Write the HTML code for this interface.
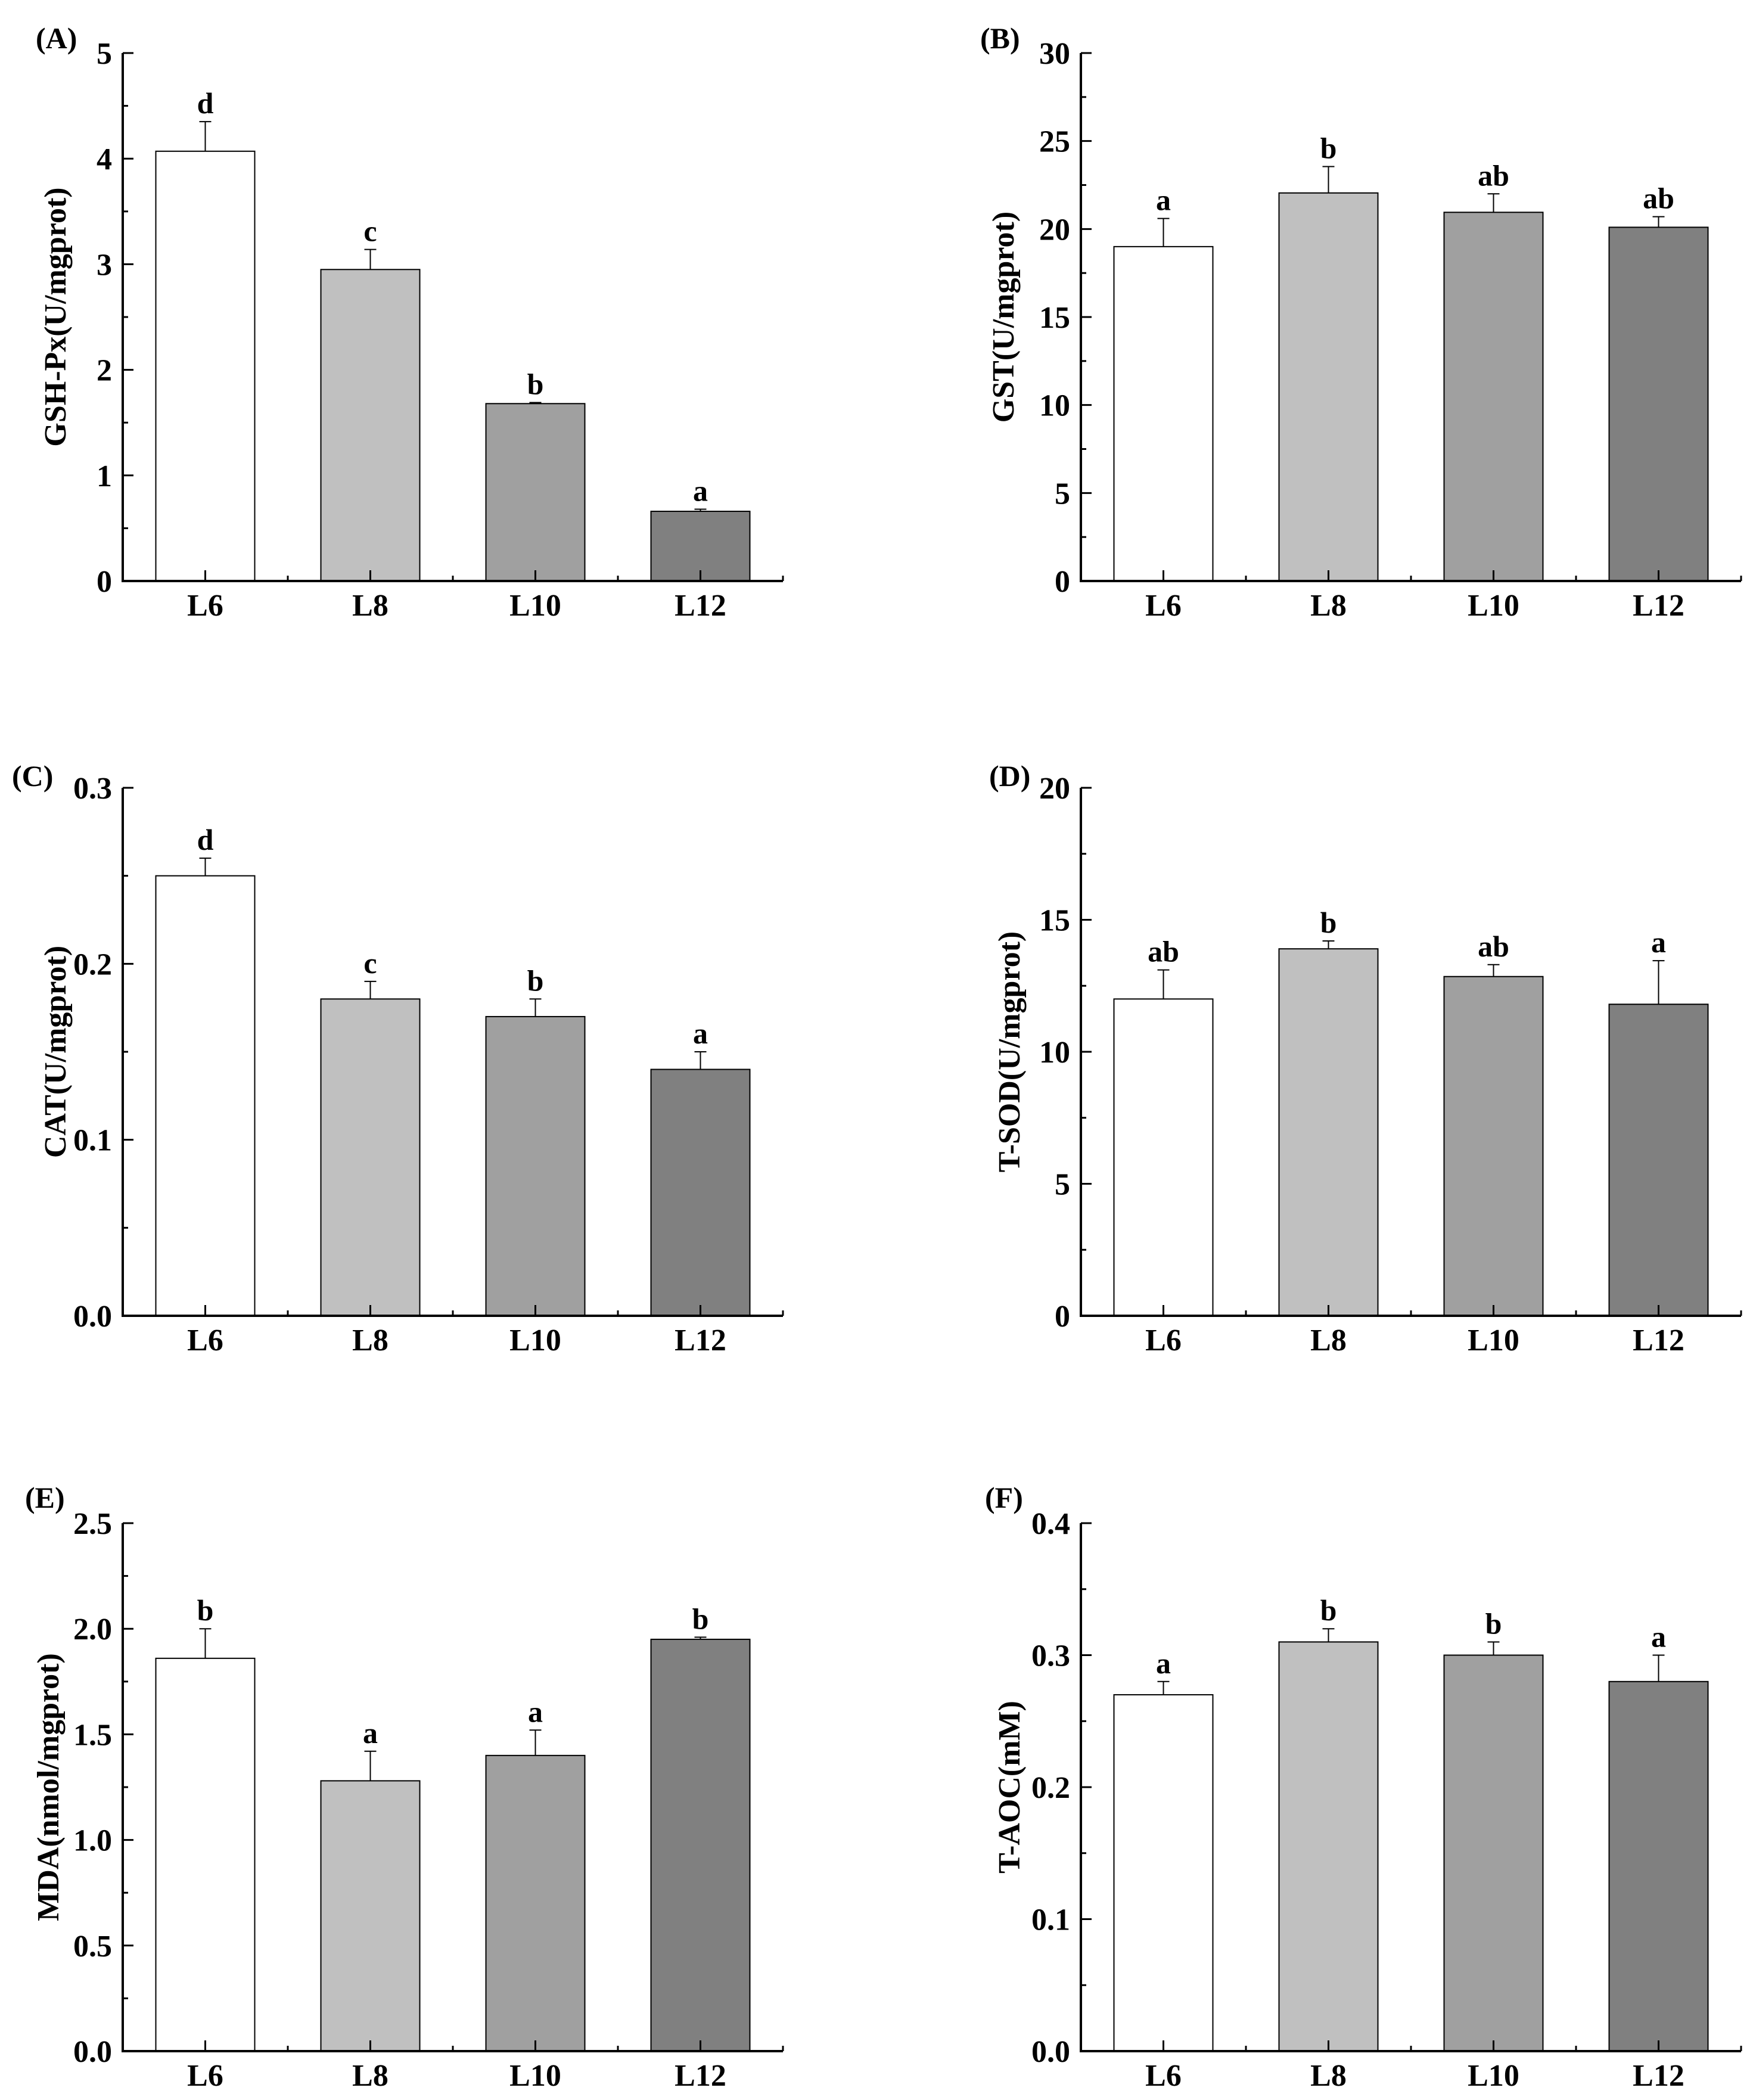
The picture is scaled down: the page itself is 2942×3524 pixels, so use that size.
<!DOCTYPE html>
<html><head><meta charset="utf-8">
<style>
html,body{margin:0;padding:0;background:#fff;}
svg{display:block;}
text{font-family:"Liberation Serif",serif;font-weight:bold;fill:#000;}
</style></head>
<body>
<svg id="fig" width="2942" height="3524" viewBox="0 0 2942 3524" xmlns="http://www.w3.org/2000/svg"></svg>
<script>
const categories = ["L6","L8","L10","L12"];
const barColors = ["#ffffff","#c0c0c0","#a0a0a0","#808080"];

const valuesA = [4.07, 2.95, 1.68, 0.66];
const errorsA = [0.28, 0.19, 0.01, 0.02];
const lettersA = ["d","c","b","a"];
const ticksA = ["0","1","2","3","4","5"];

const valuesB = [19.0, 22.05, 20.95, 20.1];
const errorsB = [1.6, 1.5, 1.05, 0.6];
const lettersB = ["a","b","ab","ab"];
const ticksB = ["0","5","10","15","20","25","30"];

const valuesC = [0.25, 0.18, 0.17, 0.14];
const errorsC = [0.01, 0.01, 0.01, 0.01];
const lettersC = ["d","c","b","a"];
const ticksC = ["0.0","0.1","0.2","0.3"];

const valuesD = [12.0, 13.9, 12.85, 11.8];
const errorsD = [1.1, 0.3, 0.45, 1.65];
const lettersD = ["ab","b","ab","a"];
const ticksD = ["0","5","10","15","20"];

const valuesE = [1.86, 1.28, 1.40, 1.95];
const errorsE = [0.14, 0.14, 0.12, 0.01];
const lettersE = ["b","a","a","b"];
const ticksE = ["0.0","0.5","1.0","1.5","2.0","2.5"];

const valuesF = [0.27, 0.31, 0.30, 0.28];
const errorsF = [0.01, 0.01, 0.01, 0.02];
const lettersF = ["a","b","b","a"];
const ticksF = ["0.0","0.1","0.2","0.3","0.4"];

const NS = "http://www.w3.org/2000/svg";
const svg = document.getElementById("fig");
function mk(tag, attrs, parent){
  const e = document.createElementNS(NS, tag);
  for (const k in attrs) e.setAttribute(k, attrs[k]);
  (parent||svg).appendChild(e);
  return e;
}

const panels = [
  {id:"a", label:"(A)", title:"GSH-Px(U/mgprot)", v:valuesA, e:errorsA, l:lettersA, t:ticksA, max:5, ax:206, top:89, lx:60, ly:63, tx:92},
  {id:"b", label:"(B)", title:"GST(U/mgprot)", v:valuesB, e:errorsB, l:lettersB, t:ticksB, max:30, ax:1814, top:89, lx:1645, ly:63, tx:1683},
  {id:"c", label:"(C)", title:"CAT(U/mgprot)", v:valuesC, e:errorsC, l:lettersC, t:ticksC, max:0.3, ax:206, top:1322, lx:20, ly:1301, tx:92},
  {id:"d", label:"(D)", title:"T-SOD(U/mgprot)", v:valuesD, e:errorsD, l:lettersD, t:ticksD, max:20, ax:1814, top:1322, lx:1660, ly:1301, tx:1693},
  {id:"e", label:"(E)", title:"MDA(nmol/mgprot)", v:valuesE, e:errorsE, l:lettersE, t:ticksE, max:2.5, ax:206, top:2556, lx:42, ly:2512, tx:80},
  {id:"f", label:"(F)", title:"T-AOC(mM)", v:valuesF, e:errorsF, l:lettersF, t:ticksF, max:0.4, ax:1814, top:2556, lx:1653, ly:2512, tx:1693}
];

const H = 886, BAND = 277, BW = 166;

panels.forEach(p => {
  const g = mk("g", {});
  
  
  const bottom = p.top + H;
  const y = v => bottom - v / p.max * H;
  const xc = i => p.ax + BAND * (i + 0.5);
  const right = p.ax + BAND * categories.length;

  p.v.forEach((v, i) => {
    const r = mk("rect", {x: xc(i) - BW/2, y: y(v), width: BW, height: bottom - y(v), fill: barColors[i], stroke: "#000", "stroke-width": 2}, g);
    
    
    const top = y(v + p.e[i]);
    const eb = mk("path", {d: `M${xc(i)},${y(v)} V${top} M${xc(i)-10},${top} H${xc(i)+10}`, stroke: "#000", "stroke-width": 2, fill: "none"}, g);
    
    
    const lt = mk("text", {x: xc(i), y: top - 14, "font-size": 50, "text-anchor": "middle"}, g);
    lt.textContent = p.l[i];
    
    
    const xl = mk("text", {x: xc(i), y: bottom + 58, "font-size": 52, "text-anchor": "middle"}, g);
    xl.textContent = categories[i];
    
    
    mk("line", {x1: xc(i), x2: xc(i), y1: bottom, y2: bottom - 18, stroke: "#000", "stroke-width": 3}, g);
    mk("line", {x1: p.ax + BAND*(i+1), x2: p.ax + BAND*(i+1), y1: bottom, y2: bottom - 9, stroke: "#000", "stroke-width": 3}, g);
  });

  const n = p.t.length - 1;
  p.t.forEach((lab, k) => {
    const val = p.max * k / n;
    mk("line", {x1: p.ax, x2: p.ax + 18, y1: y(val), y2: y(val), stroke: "#000", "stroke-width": 3}, g);
    if (k < n) {
      const mv = p.max * (k + 0.5) / n;
      mk("line", {x1: p.ax, x2: p.ax + 9, y1: y(mv), y2: y(mv), stroke: "#000", "stroke-width": 3}, g);
    }
    const tl = mk("text", {x: p.ax - 18, y: y(val) + 18, "font-size": 52, "text-anchor": "end"}, g);
    tl.textContent = lab;
    
    
  });

  const axes = mk("path", {d: `M${p.ax},${p.top} V${bottom} H${right}`, stroke: "#000", "stroke-width": 4, fill: "none"}, g);
  
  

  const yt = mk("text", {x: 0, y: 0, "font-size": 52, "text-anchor": "middle", transform: `translate(${p.tx + 18},${p.top + H/2}) rotate(-90)`}, g);
  yt.textContent = p.title;
  
  

  const pl = mk("text", {x: p.lx, y: p.ly + 18, "font-size": 50}, g);
  pl.textContent = p.label;
  
  
});
</script>
</body></html>
